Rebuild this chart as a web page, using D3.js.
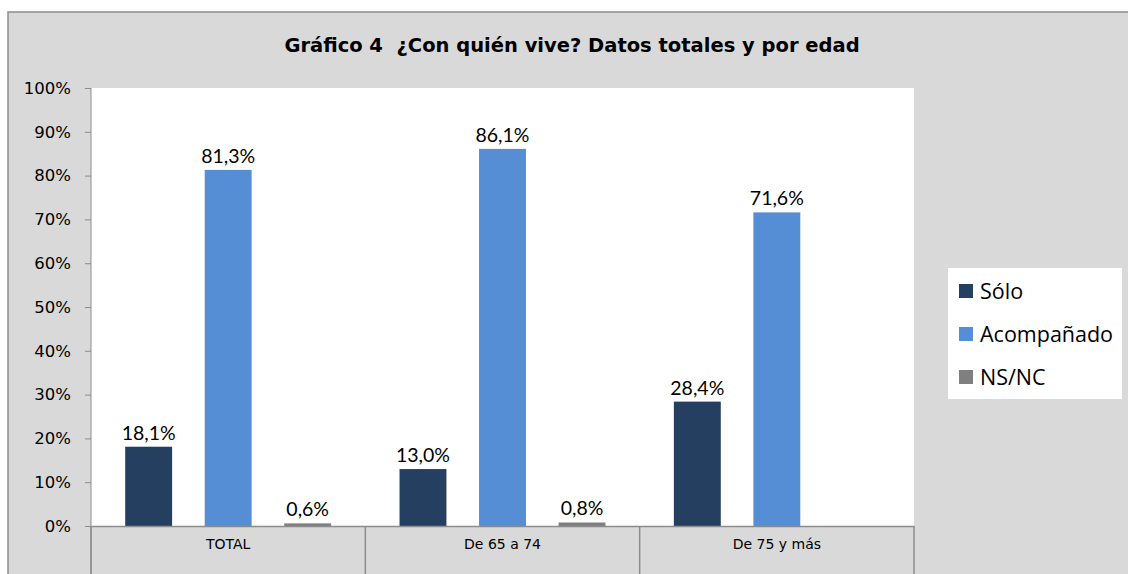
<!DOCTYPE html>
<html>
<head>
<meta charset="utf-8">
<script src="https://cdn.jsdelivr.net/npm/d3@7"></script>
<style>
  body { margin: 0; background: #fff; }
</style>
</head>
<body>
<script>
// categories and series
const categories = ['TOTAL', 'De 65 a 74', 'De 75 y más'];
const series = ['Sólo', 'Acompañado', 'NS/NC'];
const solo = [18.1, 13.0, 28.4];
const acompanado = [81.3, 86.1, 71.6];
const nsnc = [0.6, 0.8, null];
const yTicks = [0, 10, 20, 30, 40, 50, 60, 70, 80, 90, 100];
const colors = ['#243f60', '#558ed5', '#7f7f7f'];

const values = [solo, acompanado, nsnc];
const rows = [];
categories.forEach((c, i) => {
  series.forEach((s, j) => {
    if (values[j][i] != null) rows.push({cat: c, ser: s, val: values[j][i]});
  });
});

const width = 1128, height = 574;
const margin = ({top: 88, right: 214, bottom: 48, left: 91});

const svg = d3.select('body')
  .append('svg')
  .attr('width', width)
  .attr('height', height);

// background + outer frame
svg.append('rect')
  .attr('x', 8).attr('y', 12)
  .attr('width', width).attr('height', height)
  .attr('fill', '#d9d9d9')
  .attr('stroke', '#8c8c8c')
  .attr('stroke-width', 1.5);

const xScale = d3.scaleBand()
  .domain(categories)
  .range([margin.left, width - margin.right]);

const xInner = d3.scaleBand()
  .domain(series)
  .range([0, xScale.bandwidth()])
  .paddingInner(0.41)
  .paddingOuter(0.43);

const yScale = d3.scaleLinear()
  .domain([0, 100])
  .range([height - margin.bottom, margin.top]);

// plot area
svg.append('rect')
  .attr('x', margin.left).attr('y', margin.top)
  .attr('width', width - margin.right - margin.left)
  .attr('height', yScale(0) - margin.top)
  .attr('fill', '#fff');

// bars
svg.append('g')
  .selectAll('rect')
  .data(rows)
  .join('rect')
  .attr('x', d => xScale(d.cat) + xInner(d.ser))
  .attr('y', d => yScale(d.val))
  .attr('width', xInner.bandwidth())
  .attr('height', d => yScale(0) - yScale(d.val))
  .attr('fill', d => colors[series.indexOf(d.ser)]);

// data labels
svg.append('g')
  .selectAll('text')
  .data(rows)
  .join('text')
  .attr('x', d => xScale(d.cat) + xInner(d.ser) + xInner.bandwidth() / 2)
  .attr('y', d => yScale(d.val) - 7)
  .attr('text-anchor', 'middle')
  .attr('font-family', 'Lato, sans-serif')
  .attr('font-size', 19.5)
  .attr('fill', '#000')
  .text(d => d.val.toFixed(1).replace('.', ',') + '%');

// Y axis
const yAxis = d3.axisLeft(yScale).tickValues(yTicks).tickSize(6).tickFormat(d => d + '%');
const gy = svg.append('g')
  .attr('transform', `translate(${margin.left},0)`)
  .call(yAxis);
gy.select('.domain').remove();
gy.selectAll('line').attr('stroke', '#8c8c8c');
gy.selectAll('text')
  .attr('font-family', '"DejaVu Sans", sans-serif')
  .attr('font-size', 16.5)
  .attr('fill', '#000')
  .attr('dx', '-11');

// left axis line
svg.append('line')
  .attr('x1', margin.left).attr('x2', margin.left)
  .attr('y1', margin.top).attr('y2', height)
  .attr('stroke', '#8c8c8c');

// X axis
const xAxis = d3.axisBottom(xScale).tickSize(0);
const gx = svg.append('g')
  .attr('transform', `translate(0,${yScale(0)})`)
  .call(xAxis);
gx.select('.domain').attr('stroke', '#8c8c8c').attr('stroke-width', 1.5);
gx.selectAll('text')
  .attr('font-family', '"DejaVu Sans", sans-serif')
  .attr('font-size', 14)
  .attr('fill', '#000')
  .attr('dy', '1.45em');

// category separators
svg.append('g')
  .selectAll('line')
  .data(categories.concat(['end']))
  .join('line')
  .attr('x1', (d, i) => i < categories.length ? xScale(d) : xScale(categories[i - 1]) + xScale.bandwidth())
  .attr('x2', (d, i) => i < categories.length ? xScale(d) : xScale(categories[i - 1]) + xScale.bandwidth())
  .attr('y1', yScale(0))
  .attr('y2', height)
  .attr('stroke', '#8c8c8c')
  .attr('stroke-width', 1.5);

// title
svg.append('text')
  .attr('x', 572)
  .attr('y', 52)
  .attr('text-anchor', 'middle')
  .attr('font-family', '"DejaVu Sans", sans-serif')
  .attr('font-weight', 'bold')
  .attr('font-size', 19.5)
  .style('white-space', 'pre')
  .attr('fill', '#000')
  .text('Gráfico 4  ¿Con quién vive? Datos totales y por edad');

// legend
const legend = svg.append('g').attr('transform', 'translate(948,268)');
legend.append('rect')
  .attr('width', 174).attr('height', 131)
  .attr('fill', '#fff');
const li = legend.selectAll('g')
  .data(series)
  .join('g')
  .attr('transform', (d, i) => `translate(11,${23 + i * 43})`);
li.append('rect')
  .attr('width', 14).attr('height', 14)
  .attr('y', -7)
  .attr('fill', (d, i) => colors[i]);
li.append('text')
  .attr('x', 21)
  .attr('y', 8)
  .attr('font-family', '"Open Sans", sans-serif')
  .attr('font-size', 21.5)
  .attr('fill', '#000')
  .text(d => d);
</script>
</body>
</html>
